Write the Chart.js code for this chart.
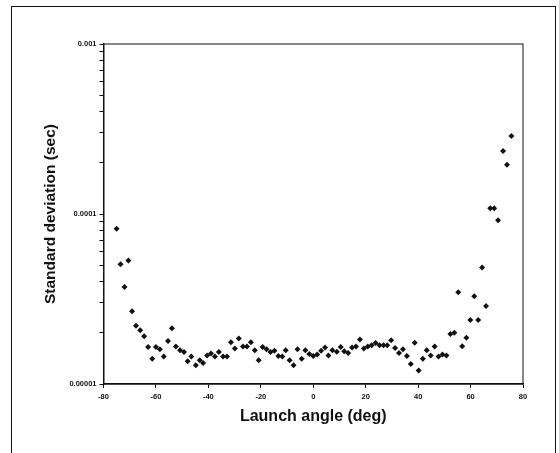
<!DOCTYPE html>
<html>
<head>
<meta charset="utf-8">
<script src="https://cdn.jsdelivr.net/npm/chart.js@4.4.1/dist/chart.umd.min.js"></script>
<style>
  html, body { margin: 0; padding: 0; background: #fff; }
  #wrap { position: relative; width: 559px; height: 453px; }
  #frame {
    position: absolute; left: 11px; top: 6px; width: 543px; height: 460px;
    border: 1.5px solid #111; border-bottom: none; pointer-events: none;
  }
</style>
</head>
<body>
<div id="wrap">
  <canvas id="sdChart"></canvas>
  <div id="frame"></div>
</div>
<script>
const angles = [
  -75, -73.5, -72, -70.5, -69.1, -67.6, -66, -64.5, -63, -61.4,
  -60, -58.5, -57, -55.4, -53.9, -52.4, -50.8, -49.3, -47.9, -46.5,
  -44.8, -43.3, -42, -40.5, -39, -37.5, -36, -34.4, -32.9, -31.4,
  -29.9, -28.4, -26.8, -25.3, -23.8, -22.3, -20.8, -19.3, -17.8, -16.3,
  -14.8, -13.3, -11.8, -10.5, -9, -7.5, -6, -4.4, -3, -1.5,
  0, 1.5, 3, 4.5, 5.8, 7.3, 9, 10.5, 11.8, 13.3,
  14.8, 16.3, 17.8, 19.3, 20.8, 22.3, 23.8, 25.3, 26.8, 28.2,
  29.7, 31.2, 32.7, 34.2, 35.7, 37.2, 38.7, 40.2, 41.8, 43.3,
  44.8, 46.3, 47.8, 49.3, 50.8, 52.3, 53.8, 55.3, 56.8, 58.4,
  59.9, 61.4, 62.9, 64.4, 65.9, 67.5, 69, 70.5, 72.4, 73.9, 75.6
];

const stdDev = [
  8.2e-5, 5.07e-5, 3.72e-5, 5.32e-5, 2.68e-5, 2.20e-5, 2.07e-5, 1.91e-5, 1.65e-5, 1.41e-5,
  1.65e-5, 1.60e-5, 1.45e-5, 1.79e-5, 2.13e-5, 1.66e-5, 1.58e-5, 1.54e-5, 1.36e-5, 1.45e-5,
  1.29e-5, 1.38e-5, 1.33e-5, 1.47e-5, 1.51e-5, 1.45e-5, 1.54e-5, 1.45e-5, 1.45e-5, 1.76e-5,
  1.62e-5, 1.85e-5, 1.66e-5, 1.66e-5, 1.76e-5, 1.58e-5, 1.38e-5, 1.65e-5, 1.60e-5, 1.54e-5,
  1.57e-5, 1.46e-5, 1.45e-5, 1.58e-5, 1.38e-5, 1.29e-5, 1.60e-5, 1.41e-5, 1.58e-5, 1.50e-5,
  1.46e-5, 1.49e-5, 1.57e-5, 1.64e-5, 1.47e-5, 1.58e-5, 1.55e-5, 1.65e-5, 1.56e-5, 1.52e-5,
  1.64e-5, 1.66e-5, 1.83e-5, 1.62e-5, 1.66e-5, 1.69e-5, 1.74e-5, 1.69e-5, 1.69e-5, 1.69e-5,
  1.81e-5, 1.63e-5, 1.52e-5, 1.60e-5, 1.46e-5, 1.31e-5, 1.75e-5, 1.20e-5, 1.41e-5, 1.58e-5,
  1.47e-5, 1.66e-5, 1.45e-5, 1.49e-5, 1.47e-5, 1.97e-5, 2.00e-5, 3.47e-5, 1.67e-5, 1.87e-5,
  2.38e-5, 3.28e-5, 2.38e-5, 4.84e-5, 2.88e-5, 1.08e-4, 1.08e-4, 9.2e-5, 2.35e-4, 1.95e-4, 2.88e-4
];

// y ticks: every mark on the log axis, only the decades carry a label
const yTickValues = [
  1e-5, 2e-5, 3e-5, 4e-5, 5e-5, 6e-5, 7e-5, 8e-5, 9e-5,
  1e-4, 2e-4, 3e-4, 4e-4, 5e-4, 6e-4, 7e-4, 8e-4, 9e-4, 1e-3
];
const yTickLabels = { '0.00001': '0.00001', '0.0001': '0.0001', '0.001': '0.001' };

const xTickLabels = ['-80', '-60', '-40', '-20', '0', '20', '40', '60', '80'];

const points = angles.map((a, i) => ({ x: a, y: stdDev[i] }));

const plotFrame = {
  id: 'plotFrame',
  afterDraw(chart) {
    const { ctx, chartArea: a } = chart;
    ctx.save();
    ctx.strokeStyle = '#111';
    ctx.lineWidth = 1;
    ctx.strokeRect(a.left, a.top, a.right - a.left, a.bottom - a.top);
    ctx.restore();
  }
};

const tickFont = { family: 'Liberation Sans, Arial, sans-serif', size: 7.5, weight: 'bold' };

new Chart(document.getElementById('sdChart').getContext('2d'), {
  type: 'scatter',
  data: {
    datasets: [{
      label: 'Standard deviation',
      data: points,
      pointStyle: 'rectRot',
      pointRadius: 3,
      backgroundColor: '#111',
      borderColor: '#111',
      borderWidth: 0
    }]
  },
  options: {
    responsive: true,
    maintainAspectRatio: false,
    animation: false,
    layout: { padding: { left: 0, right: 36, top: 44, bottom: 0 } },
    plugins: {
      legend: { display: false },
      tooltip: { enabled: false }
    },
    scales: {
      x: {
        type: 'linear',
        min: -80,
        max: 80,
        afterFit: (scale) => { scale.height = 69; },
        afterBuildTicks: (scale) => {
          scale.ticks = xTickLabels.map(t => ({ value: Number(t) }));
        },
        grid: { drawOnChartArea: false, drawTicks: true, tickLength: 4, color: '#111' },
        border: { display: true, color: '#111', width: 1.5 },
        ticks: {
          color: '#111',
          font: tickFont,
          padding: 4,
          maxRotation: 0,
          autoSkip: false,
          callback: (v) => xTickLabels.find(t => Number(t) === v)
        },
        title: {
          display: true,
          text: 'Launch angle (deg)',
          color: '#111',
          font: { family: 'Liberation Sans, Arial, sans-serif', size: 16, weight: 'bold' },
          padding: { top: 0, bottom: 27 }
        }
      },
      y: {
        type: 'logarithmic',
        min: 1e-5,
        max: 1e-3,
        afterFit: (scale) => { scale.width = 103.5; },
        afterBuildTicks: (scale) => {
          scale.ticks = yTickValues.map(v => ({ value: v }));
        },
        grid: { drawOnChartArea: false, drawTicks: true, tickLength: 4, color: '#111' },
        border: { display: true, color: '#111', width: 1.5 },
        ticks: {
          color: '#111',
          font: tickFont,
          padding: 3,
          autoSkip: false,
          callback: (v) => {
            const key = Number(v).toFixed(5).replace(/0+$/, '');
            return yTickLabels[key] || '';
          }
        },
        title: {
          display: true,
          text: 'Standard deviation (sec)',
          color: '#111',
          font: { family: 'Liberation Sans, Arial, sans-serif', size: 15.5, weight: 'bold' },
          padding: { top: 41, bottom: 0 }
        }
      }
    }
  },
  plugins: [plotFrame]
});
</script>
</body>
</html>
